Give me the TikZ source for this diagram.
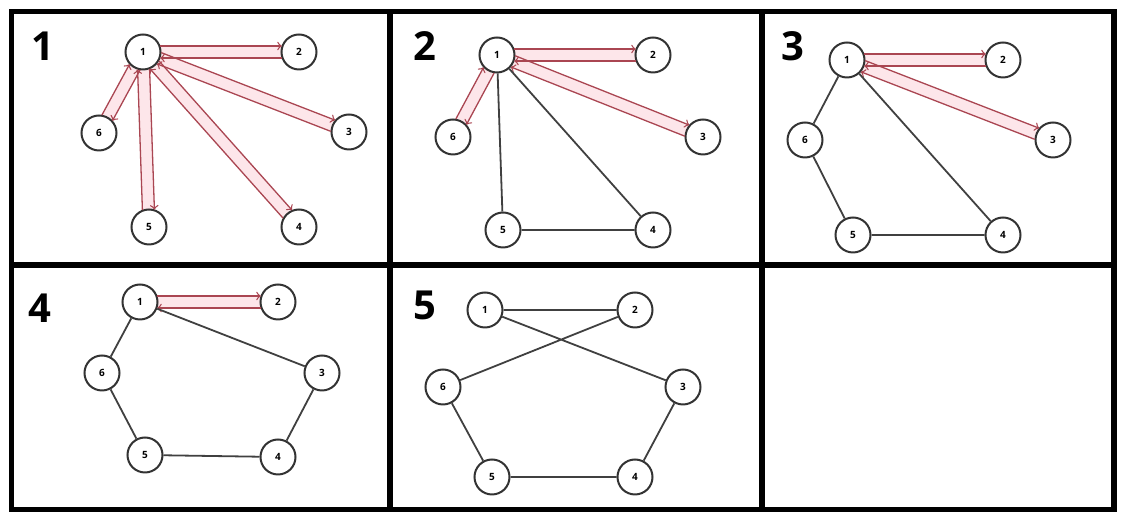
\documentclass[tikz,border=0pt]{standalone}
\usepackage{fontspec}
\setmainfont{Open Sans}
\usetikzlibrary{calc,backgrounds}
\definecolor{tourred}{RGB}{170,70,82}
\definecolor{tourpink}{RGB}{253,230,234}
\tikzset{
  vertex/.style={circle,draw=black!80,line width=1pt,fill=white,minimum size=17.5pt,inner sep=0pt,font=\fontsize{5}{6}\selectfont\bfseries},
  panelno/.style={font=\fontsize{20}{22}\selectfont\bfseries},
  edge/.style={draw=black!75,line width=0.9pt},
  band/.style={draw=tourpink,line width=6pt},
  go/.style={->,draw=tourred,line width=0.65pt,shorten <=8.6pt,shorten >=8.6pt},
  frame/.style={line width=2.6pt},
  divider/.style={line width=3pt}
}
\begin{document}
\begin{tikzpicture}[x=0.5pt,y=-0.5pt]
    \useasboundingbox (0,0) rectangle (1121,512);
    % frame
    \draw[frame] (11.5,11.5) rectangle (1114,509.5);
    \draw[divider] (390,11.5) -- (390,509.5);
    \draw[divider] (762,11.5) -- (762,509.5);
    \draw[divider] (11.5,265) -- (1114,265);

    % step 1
    \node[panelno] (n1) at (43,46) {1};
    \node[vertex] (a1) at (143,52) {1};
    \node[vertex] (a2) at (299,52) {2};
    \node[vertex] (a3) at (349,132) {3};
    \node[vertex] (a4) at (299,227) {4};
    \node[vertex] (a5) at (149,227) {5};
    \node[vertex] (a6) at (99,133) {6};
    \foreach \v in {a2,a3,a4,a5,a6}{
        \begin{pgfonlayer}{background}
            \draw[band] (a1.center) -- (\v.center);
        \end{pgfonlayer}
        \draw[go] ($(a1)!3pt!90:(\v)$) -- ($(\v)!3pt!-90:(a1)$);
        \draw[go] ($(\v)!3pt!90:(a1)$) -- ($(a1)!3pt!-90:(\v)$);
    }

    % step 2
    \node[panelno] (n2) at (425,46) {2};
    \node[vertex] (b1) at (497,55) {1};
    \node[vertex] (b2) at (653,55) {2};
    \node[vertex] (b3) at (703,137) {3};
    \node[vertex] (b4) at (653,230) {4};
    \node[vertex] (b5) at (503,230) {5};
    \node[vertex] (b6) at (453,137) {6};
    \foreach \v in {b2,b3,b6}{
        \begin{pgfonlayer}{background}
            \draw[band] (b1.center) -- (\v.center);
        \end{pgfonlayer}
        \draw[go] ($(b1)!3pt!90:(\v)$) -- ($(\v)!3pt!-90:(b1)$);
        \draw[go] ($(\v)!3pt!90:(b1)$) -- ($(b1)!3pt!-90:(\v)$);
    }
    \draw[edge] (b1) -- (b5) (b1) -- (b4) (b5) -- (b4);

    % step 3
    \node[panelno] (n3) at (793,46) {3};
    \node[vertex] (c1) at (847,60) {1};
    \node[vertex] (c2) at (1003,60) {2};
    \node[vertex] (c3) at (1053,140) {3};
    \node[vertex] (c4) at (1003,235) {4};
    \node[vertex] (c5) at (853,235) {5};
    \node[vertex] (c6) at (805,140) {6};
    \foreach \v in {c2,c3}{
        \begin{pgfonlayer}{background}
            \draw[band] (c1.center) -- (\v.center);
        \end{pgfonlayer}
        \draw[go] ($(c1)!3pt!90:(\v)$) -- ($(\v)!3pt!-90:(c1)$);
        \draw[go] ($(\v)!3pt!90:(c1)$) -- ($(c1)!3pt!-90:(\v)$);
    }
    \draw[edge] (c1) -- (c6) -- (c5) -- (c4) -- (c1);

    % step 4
    \node[panelno] (n4) at (40,308) {4};
    \node[vertex] (d1) at (140,302) {1};
    \node[vertex] (d2) at (278,302) {2};
    \node[vertex] (d3) at (322,373) {3};
    \node[vertex] (d4) at (278,457) {4};
    \node[vertex] (d5) at (145,455) {5};
    \node[vertex] (d6) at (102,373) {6};
    \begin{pgfonlayer}{background}
        \draw[band] (d1.center) -- (d2.center);
    \end{pgfonlayer}
    \draw[go] ($(d1)!3pt!90:(d2)$) -- ($(d2)!3pt!-90:(d1)$);
    \draw[go] ($(d2)!3pt!90:(d1)$) -- ($(d1)!3pt!-90:(d2)$);
    \draw[edge] (d1) -- (d3) -- (d4) -- (d5) -- (d6) -- (d1);

    % step 5
    \node[panelno] (n5) at (425,305) {5};
    \node[vertex] (e1) at (485,310) {1};
    \node[vertex] (e2) at (635,310) {2};
    \node[vertex] (e3) at (683,387) {3};
    \node[vertex] (e4) at (635,477) {4};
    \node[vertex] (e5) at (492,477) {5};
    \node[vertex] (e6) at (443,387) {6};
    \draw[edge] (e1) -- (e2) -- (e6) -- (e5) -- (e4) -- (e3) -- (e1);
\end{tikzpicture}
\end{document}
